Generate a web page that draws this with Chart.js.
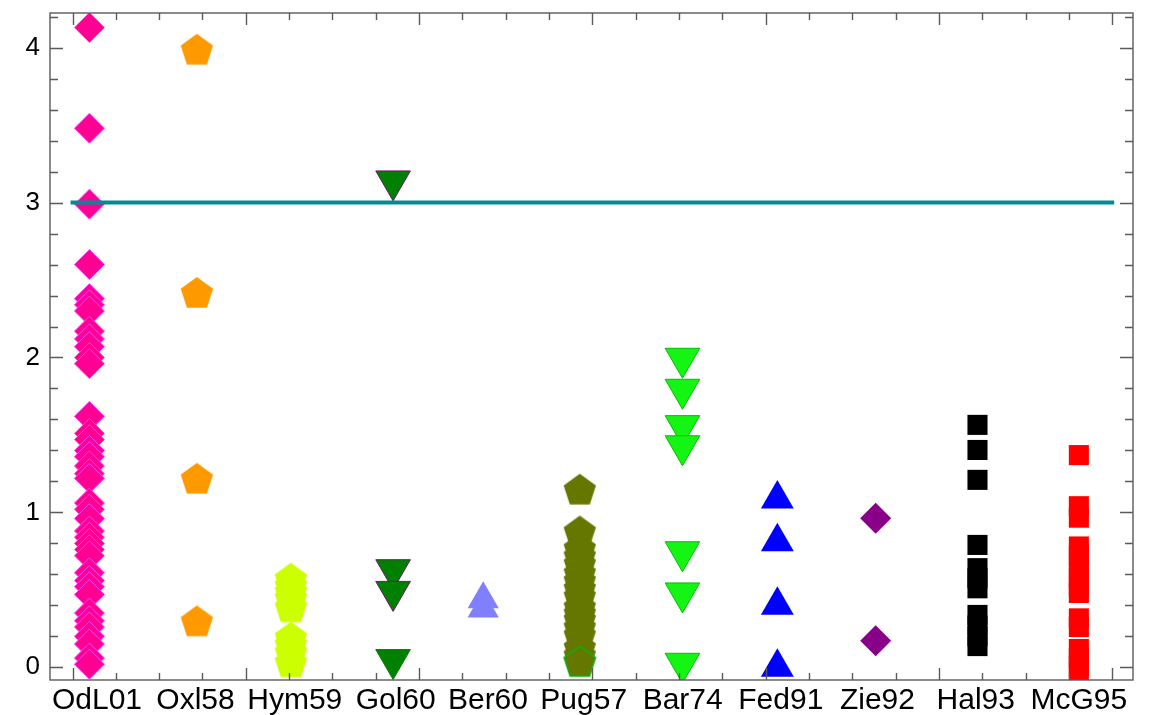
<!DOCTYPE html>
<html>
<head>
<meta charset="utf-8">
<script src="https://cdn.jsdelivr.net/npm/chart.js@4.4.1/dist/chart.umd.min.js"></script>
<style>
  html, body { margin: 0; padding: 0; background: #ffffff; }
  #wrap { width: 1149px; height: 715px; }
</style>
</head>
<body>
<div id="wrap"><canvas id="c" width="1149" height="715"></canvas></div>
<script>
// ---- data -------------------------------------------------------------
const categories = ['OdL01', 'Oxl58', 'Hym59', 'Gol60', 'Ber60', 'Pug57', 'Bar74', 'Fed91', 'Zie92', 'Hal93', 'McG95'];
// position of each category label on the x scale
const labelPos = [0.565, 2.84, 5.13, 7.46, 9.59, 11.80, 14.085, 16.35, 18.58, 20.85, 23.23];
// x position of each category's column of markers
const markerPos = [0.39, 2.87, 5.04, 7.40, 9.48, 11.71, 14.08, 16.27, 18.54, 20.89, 23.23];

const odl01 = [4.13, 3.48, 2.99, 2.60, 2.38, 2.34, 2.30, 2.17, 2.12, 2.07, 2.00, 1.96, 1.62, 1.51, 1.47,
               1.40, 1.36, 1.30, 1.25, 1.22, 1.06, 1.02, 0.96, 0.88, 0.84, 0.80, 0.76, 0.72, 0.61, 0.56,
               0.52, 0.47, 0.35, 0.30, 0.26, 0.20, 0.15, 0.06, 0.02];
const oxl58 = [3.98, 2.41, 1.21, 0.29];
const hym59 = [0.565, 0.52, 0.48, 0.44, 0.38, 0.185, 0.14, 0.09, 0.025];
const gol60 = [3.14, 0.63, 0.49, 0.05];
const ber60 = [0.44, 0.38];
const pug57 = [1.14, 0.87, 0.76, 0.71, 0.66, 0.60, 0.55, 0.50, 0.45, 0.38, 0.34, 0.30, 0.25, 0.20, 0.12, 0.07, 0.03];
const bar74 = [1.995, 1.795, 1.56, 1.43, 0.746, 0.48, 0.026];
const fed91 = [1.086, 0.81, 0.40, 0.0];
const zie92 = [0.962, 0.172];
const hal93 = [1.565, 1.403, 1.21, 0.79, 0.64, 0.575, 0.51, 0.338, 0.27, 0.20, 0.137];
const mcg95 = [1.37, 1.04, 0.966, 0.78, 0.72, 0.65, 0.58, 0.52, 0.48, 0.316, 0.26, 0.118, 0.06, 0.01, -0.02];

const refLevel = 3;          // horizontal reference line
const refSpan = [0, 24];     // x extent of the reference line
const yMajorTicks = [0, 1, 2, 3, 4];

// ---- helpers ----------------------------------------------------------
function pts(values, i) {
  return values.map(v => ({ x: markerPos[i], y: v }));
}

function pentagon(fill, stroke, R) {
  const size = 2 * Math.ceil(R + 2);
  const c = document.createElement('canvas');
  c.width = size; c.height = size;
  const g = c.getContext('2d');
  const cx = size / 2, cy = size / 2;
  g.beginPath();
  for (let k = 0; k < 5; k++) {
    const a = -Math.PI / 2 + k * 2 * Math.PI / 5;
    const px = cx + R * Math.cos(a), py = cy + R * Math.sin(a);
    if (k === 0) g.moveTo(px, py); else g.lineTo(px, py);
  }
  g.closePath();
  g.fillStyle = fill;
  g.fill();
  if (stroke) { g.strokeStyle = stroke; g.lineWidth = 1.6; g.stroke(); }
  return c;
}

const pentOrange = pentagon('rgb(255,153,0)', null, 17);
const pentLime = pentagon('rgb(204,255,0)', null, 17);
const pentOlive = pentagon('rgb(102,119,0)', null, 17);
const pentOliveEdged = pentagon('rgb(102,119,0)', 'rgb(20,170,20)', 16.5);

// ---- frame with inward ticks on all four sides -------------------------
const frameTicks = {
  id: 'frameTicks',
  afterDatasetsDraw(chart) {
    const { ctx, chartArea: a, scales } = chart;
    const xs = scales.x, ys = scales.y;
    ctx.save();
    ctx.strokeStyle = '#5a5a5a';
    ctx.lineWidth = 1.4;
    ctx.strokeRect(a.left, a.top, a.right - a.left, a.bottom - a.top);
    ctx.beginPath();
    for (let k = 0; k <= 24; k++) {
      const px = Math.round(xs.getPixelForValue(k)) + 0.5;
      const len = k % 4 === 0 ? 12 : 7;
      ctx.moveTo(px, a.bottom); ctx.lineTo(px, a.bottom - len);
      ctx.moveTo(px, a.top); ctx.lineTo(px, a.top + len);
    }
    for (let k = 0; k <= 21; k++) {
      const v = k * 0.2;
      const py = Math.round(ys.getPixelForValue(v)) + 0.5;
      const len = k % 5 === 0 ? 13 : 8;
      ctx.moveTo(a.left, py); ctx.lineTo(a.left + len, py);
      ctx.moveTo(a.right, py); ctx.lineTo(a.right - len, py);
    }
    ctx.stroke();
    ctx.restore();
  }
};

// ---- chart ------------------------------------------------------------
const datasets = [
  { data: pts(odl01, 0), pointStyle: 'rectRot', pointRadius: 15,
    backgroundColor: 'rgb(255,0,146)', borderColor: 'rgb(255,70,255)', borderWidth: 1 },
  { data: pts(oxl58, 1), pointStyle: pentOrange },
  { data: pts(hym59, 2), pointStyle: pentLime },
  { data: pts(gol60, 3), pointStyle: 'triangle', rotation: 180, pointRadius: 20,
    backgroundColor: 'rgb(0,128,0)',
    borderColor: ctx => (ctx.raw && ctx.raw.y > 0.3 ? 'rgb(110,20,110)' : 'rgb(0,128,0)'), borderWidth: 1 },
  { data: pts(ber60, 4), pointStyle: 'triangle', pointRadius: 18,
    backgroundColor: 'rgb(128,128,255)', borderColor: 'rgb(128,128,255)', borderWidth: 0 },
  { data: pts(pug57, 5),
    pointStyle: ctx => (ctx.dataIndex === pug57.length - 1 ? pentOliveEdged : pentOlive) },
  { data: pts(bar74, 6), pointStyle: 'triangle', rotation: 180, pointRadius: 20,
    backgroundColor: 'rgb(20,245,20)', borderColor: 'rgb(0,190,0)', borderWidth: 1 },
  { data: pts(fed91, 7), pointStyle: 'triangle', pointRadius: 19,
    backgroundColor: 'rgb(0,0,255)', borderColor: 'rgb(0,0,255)', borderWidth: 0 },
  { data: pts(zie92, 8), pointStyle: 'rectRot', pointRadius: 15.5,
    backgroundColor: 'rgb(136,0,136)', borderColor: 'rgb(136,0,136)', borderWidth: 0 },
  { data: pts(hal93, 9), pointStyle: 'rect', pointRadius: 14.2,
    backgroundColor: '#000000', borderColor: '#000000', borderWidth: 0 },
  { data: pts(mcg95, 10), pointStyle: 'rect', pointRadius: 14.2,
    backgroundColor: 'rgb(255,0,0)', borderColor: 'rgb(255,0,0)', borderWidth: 0 },
  { type: 'line', order: -1,
    data: refSpan.map(x => ({ x, y: refLevel })),
    borderColor: 'rgb(0,139,150)', borderWidth: 4, borderCapStyle: 'square',
    pointRadius: 0, fill: false }
].map(d => Object.assign({ type: 'scatter', pointRadius: 17, pointHoverRadius: 0 }, d));

new Chart(document.getElementById('c'), {
  type: 'scatter',
  data: { datasets },
  options: {
    responsive: false,
    animation: false,
    events: [],
    layout: { autoPadding: false, padding: { top: 13, right: 16, left: 0, bottom: 0 } },
    plugins: { legend: { display: false }, tooltip: { enabled: false } },
    scales: {
      x: {
        type: 'linear', min: -0.52, max: 24.48,
        grid: { display: false, drawTicks: false },
        border: { display: false },
        afterBuildTicks: s => { s.ticks = labelPos.map(v => ({ value: v })); },
        afterFit: s => { s.height = 35; s.paddingLeft = 0; s.paddingRight = 0; },
        ticks: {
          autoSkip: false, maxRotation: 0, padding: 3,
          color: '#000000',
          font: { family: "'Liberation Sans', Arial, sans-serif", size: 30 },
          callback: (v, i) => categories[i]
        }
      },
      y: {
        type: 'linear', min: -0.082, max: 4.224,
        grid: { display: false, drawTicks: false },
        border: { display: false },
        afterBuildTicks: s => { s.ticks = yMajorTicks.map(v => ({ value: v })); },
        afterFit: s => { s.width = 50; s.paddingTop = 0; s.paddingBottom = 0; },
        ticks: {
          padding: 10,
          color: '#000000',
          font: { family: "'Liberation Sans', Arial, sans-serif", size: 26 },
          callback: v => String(v)
        }
      }
    }
  },
  plugins: [frameTicks]
});
</script>
</body>
</html>
